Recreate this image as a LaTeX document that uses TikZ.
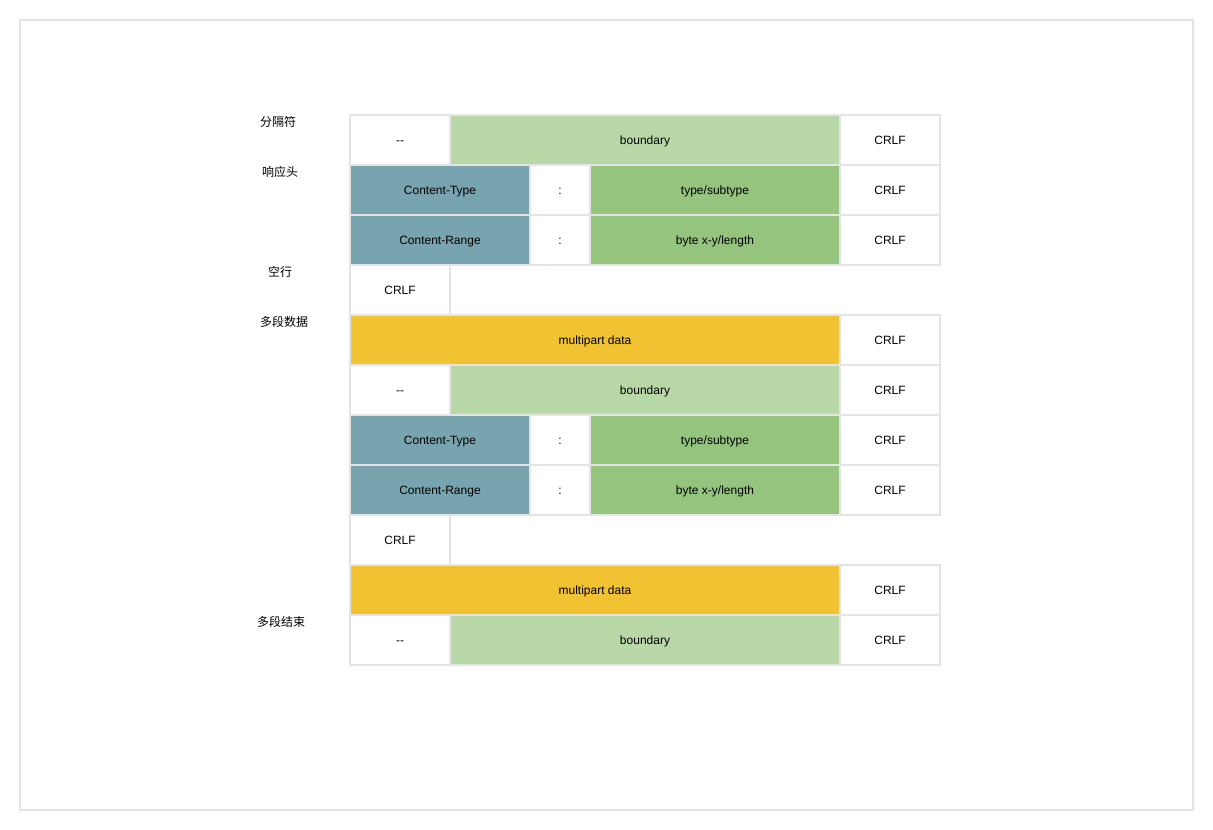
\documentclass[tikz,border=0pt]{standalone}
\usepackage{fontspec}
\setmainfont{Liberation Sans}
\newfontfamily\cjk{Noto Sans CJK SC}
\usetikzlibrary{positioning}
\definecolor{gridgray}{RGB}{228, 228, 228}
\definecolor{headteal}{RGB}{120, 164, 176}
\definecolor{boundgreen}{RGB}{184, 216, 168}
\definecolor{valgreen}{RGB}{148, 196, 126}
\definecolor{datayellow}{RGB}{241, 194, 50}

\tikzset{
  cell/.style={draw=gridgray, line width=1.5pt, inner sep=0pt, outer sep=0pt,
    minimum height=50pt, text height=8.6pt, text depth=0pt,
    font=\fontsize{12}{14}\selectfont, text=black},
  first/.style={cell, anchor=north west},
  rowlabel/.style={font=\cjk\fontsize{12}{14}\selectfont, anchor=north}
}

\begin{document}
\begin{tikzpicture}[x=1pt, y=-1pt, node distance=0pt]
  \useasboundingbox (0,0) rectangle (1213,830);
  \draw[gridgray, line width=1.5pt] (20,20) rectangle (1193,810);

  % row labels
  \node[rowlabel] (lsep) at (278,113) {分隔符};
  \node[rowlabel] (lhead) at (280,163) {响应头};
  \node[rowlabel] (lblank) at (280,263) {空行};
  \node[rowlabel] (ldata) at (284,313) {多段数据};
  \node[rowlabel] (lend) at (281,613) {多段结束};

  % separator
  \node[first, minimum width=100pt] (s1a) at (350,115) {-{}-};
  \node[cell, fill=boundgreen, minimum width=390pt, right=of s1a] (s1b) {boundary};
  \node[cell, minimum width=100pt, right=of s1b] (s1c) {CRLF};

  % headers
  \node[first, fill=headteal, minimum width=180pt] (t1a) at (350,165) {Content-Type};
  \node[cell, minimum width=60pt, right=of t1a] (t1b) {:};
  \node[cell, fill=valgreen, minimum width=250pt, right=of t1b] (t1c) {type/subtype};
  \node[cell, minimum width=100pt, right=of t1c] (t1d) {CRLF};

  \node[first, fill=headteal, minimum width=180pt] (r1a) at (350,215) {Content-Range};
  \node[cell, minimum width=60pt, right=of r1a] (r1b) {:};
  \node[cell, fill=valgreen, minimum width=250pt, right=of r1b] (r1c) {byte x-y/length};
  \node[cell, minimum width=100pt, right=of r1c] (r1d) {CRLF};

  % blank line
  \node[first, minimum width=100pt] (b1) at (350,265) {CRLF};

  % data
  \node[first, fill=datayellow, minimum width=490pt] (d1a) at (350,315) {multipart data};
  \node[cell, minimum width=100pt, right=of d1a] (d1b) {CRLF};

  % second part
  \node[first, minimum width=100pt] (s2a) at (350,365) {-{}-};
  \node[cell, fill=boundgreen, minimum width=390pt, right=of s2a] (s2b) {boundary};
  \node[cell, minimum width=100pt, right=of s2b] (s2c) {CRLF};

  \node[first, fill=headteal, minimum width=180pt] (t2a) at (350,415) {Content-Type};
  \node[cell, minimum width=60pt, right=of t2a] (t2b) {:};
  \node[cell, fill=valgreen, minimum width=250pt, right=of t2b] (t2c) {type/subtype};
  \node[cell, minimum width=100pt, right=of t2c] (t2d) {CRLF};

  \node[first, fill=headteal, minimum width=180pt] (r2a) at (350,465) {Content-Range};
  \node[cell, minimum width=60pt, right=of r2a] (r2b) {:};
  \node[cell, fill=valgreen, minimum width=250pt, right=of r2b] (r2c) {byte x-y/length};
  \node[cell, minimum width=100pt, right=of r2c] (r2d) {CRLF};

  \node[first, minimum width=100pt] (b2) at (350,515) {CRLF};

  \node[first, fill=datayellow, minimum width=490pt] (d2a) at (350,565) {multipart data};
  \node[cell, minimum width=100pt, right=of d2a] (d2b) {CRLF};

  % closing boundary
  \node[first, minimum width=100pt] (e1a) at (350,615) {-{}-};
  \node[cell, fill=boundgreen, minimum width=390pt, right=of e1a] (e1b) {boundary};
  \node[cell, minimum width=100pt, right=of e1b] (e1c) {CRLF};
\end{tikzpicture}
\end{document}
